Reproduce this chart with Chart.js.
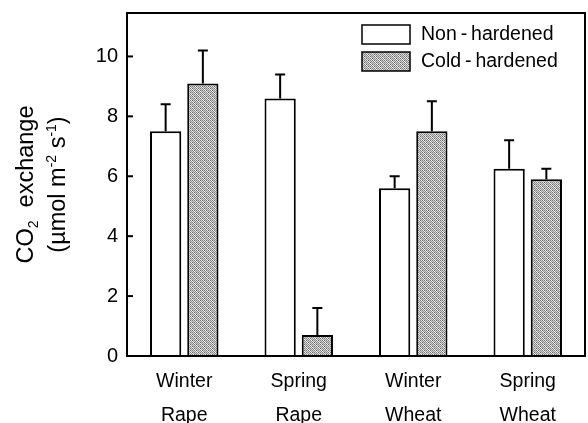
<!DOCTYPE html>
<html>
<head>
<meta charset="utf-8">
<script src="https://cdn.jsdelivr.net/npm/chart.js@4.4.1/dist/chart.umd.min.js"></script>
<style>
html, body { margin: 0; padding: 0; background: #fff; }
#wrap { width: 588px; height: 423px; }
</style>
</head>
<body>
<div id="wrap"><canvas id="c"></canvas></div>
<script>
// data
var categories = [['Winter', 'Rape'], ['Spring', 'Rape'], ['Winter', 'Wheat'], ['Spring', 'Wheat']];
var seriesNames = ['Non\u2009-\u2009hardened', 'Cold\u2009-\u2009hardened'];
var nonHardened = [7.5, 8.6, 5.6, 6.25];
var nonHardenedErr = [0.9, 0.8, 0.4, 0.95];
var coldHardened = [9.1, 0.7, 7.5, 5.9];
var coldHardenedErr = [1.1, 0.9, 1.0, 0.35];
var yTicks = [0, 2, 4, 6, 8, 10];

var FONT = '"Liberation Sans", Arial, Helvetica, sans-serif';

//灰色点状填充 (checker of dark / light dots)
function stipple() {
    var dark = [120, 150, 100, 140, 130, 160];
    var light = [235, 215, 245, 205, 225, 240];
    var c = document.createElement('canvas');
    c.width = 6; c.height = 6;
    var g = c.getContext('2d');
    for (var r = 0; r < 6; r++) {
        for (var k = 0; k < 6; k++) {
            var v = (r + k) % 2 == 0 ? dark[(r * 2 + k) % 6] : light[(r + k * 5) % 6];
            g.fillStyle = 'rgb(' + v + ',' + v + ',' + v + ')';
            g.fillRect(k, r, 1, 1);
        }
    }
    return g.createPattern(c, 'repeat');
}
var grey = stipple();

// frame, inward ticks, error bars, legend, y title
var decor = {
    id: 'decor',
    afterDatasetsDraw: function (chart) {
        var ctx = chart.ctx, a = chart.chartArea;
        var ys = chart.scales.y;
        ctx.save();
        ctx.strokeStyle = '#000';
        ctx.lineWidth = 2;
        // error bars
        var errs = [nonHardenedErr, coldHardenedErr];
        chart.data.datasets.forEach(function (ds, di) {
            var meta = chart.getDatasetMeta(di);
            meta.data.forEach(function (bar, i) {
                var top = ys.getPixelForValue(ds.data[i] + errs[di][i]);
                ctx.beginPath();
                ctx.moveTo(bar.x, bar.y);
                ctx.lineTo(bar.x, top);
                ctx.moveTo(bar.x - 5, top);
                ctx.lineTo(bar.x + 5, top);
                ctx.stroke();
            });
        });
        // frame
        ctx.strokeRect(a.left, a.top, a.right - a.left, a.bottom - a.top);
        // inward ticks
        ys.ticks.forEach(function (t) {
            var y = ys.getPixelForValue(t.value);
            ctx.beginPath();
            ctx.moveTo(a.left, y);
            ctx.lineTo(a.left + 6, y);
            ctx.stroke();
        });
        // legend
        var fills = ['#fff', grey];
        ctx.font = '19.5px ' + FONT;
        ctx.textBaseline = 'middle';
        ctx.textAlign = 'left';
        chart.data.datasets.forEach(function (ds, di) {
            var bx = a.right - 223, by = a.top + 12 + di * 27;
            ctx.fillStyle = fills[di];
            ctx.fillRect(bx, by, 48, 19);
            ctx.lineWidth = 1.5;
            ctx.strokeRect(bx, by, 48, 19);
            ctx.fillStyle = '#000';
            ctx.fillText(ds.label, bx + 59, by + 10);
        });
        // y title
        var cy = (a.top + a.bottom) / 2;
        drawRich(ctx, 33, cy, [['CO', 0], ['2', 1], ['  exchange', 0]]);
        drawRich(ctx, 65, cy, [['(\u00b5mol m', 0], ['-2', 2], [' s', 0], ['-1', 2], [')', 0]]);
        ctx.restore();
    }
};

// 0 normal, 1 subscript, 2 superscript
function drawRich(ctx, x, y, parts) {
    var big = 23.5, small = 14;
    var w = 0;
    parts.forEach(function (p) {
        ctx.font = (p[1] ? small : big) + 'px ' + FONT;
        p.w = ctx.measureText(p[0]).width;
        w += p.w;
    });
    ctx.save();
    ctx.translate(x, y);
    ctx.rotate(-Math.PI / 2);
    ctx.textBaseline = 'alphabetic';
    ctx.textAlign = 'left';
    ctx.fillStyle = '#000';
    var cx = -w / 2;
    parts.forEach(function (p) {
        ctx.font = (p[1] ? small : big) + 'px ' + FONT;
        var dy = p[1] == 1 ? 5 : (p[1] == 2 ? -9 : 0);
        ctx.fillText(p[0], cx, dy);
        cx += p.w;
    });
    ctx.restore();
}

var chart = new Chart(document.getElementById('c'), {
    type: 'bar',
    data: {
        labels: categories,
        datasets: [
            { label: seriesNames[0], data: nonHardened, backgroundColor: '#fff', borderColor: '#000', borderWidth: 2 },
            { label: seriesNames[1], data: coldHardened, backgroundColor: grey, borderColor: '#000', borderWidth: 2 }
        ]
    },
    options: {
        responsive: true,
        maintainAspectRatio: false,
        animation: false,
        layout: { padding: { top: 13, right: 3, left: 0, bottom: 0 } },
        datasets: { bar: { categoryPercentage: 0.65, barPercentage: 0.84 } },
        plugins: { legend: { display: false }, tooltip: { enabled: false } },
        scales: {
            x: {
                grid: { display: false, drawTicks: false },
                border: { display: false },
                ticks: { color: '#000', padding: 9, font: { family: FONT, size: 19.5, lineHeight: 1.72 } },
                afterFit: function (s) { s.height = 67; s.paddingLeft = 0; s.paddingRight = 0; }
            },
            y: {
                min: 0,
                max: 11.45,
                grid: { display: false, drawTicks: false },
                border: { display: false },
                ticks: { color: '#000', padding: 9, font: { family: FONT, size: 20 } },
                afterBuildTicks: function (s) { s.ticks = yTicks.map(function (v) { return { value: v }; }); },
                afterFit: function (s) { s.width = 127; s.paddingTop = 0; s.paddingBottom = 0; }
            }
        }
    },
    plugins: [decor]
});
</script>
</body>
</html>
